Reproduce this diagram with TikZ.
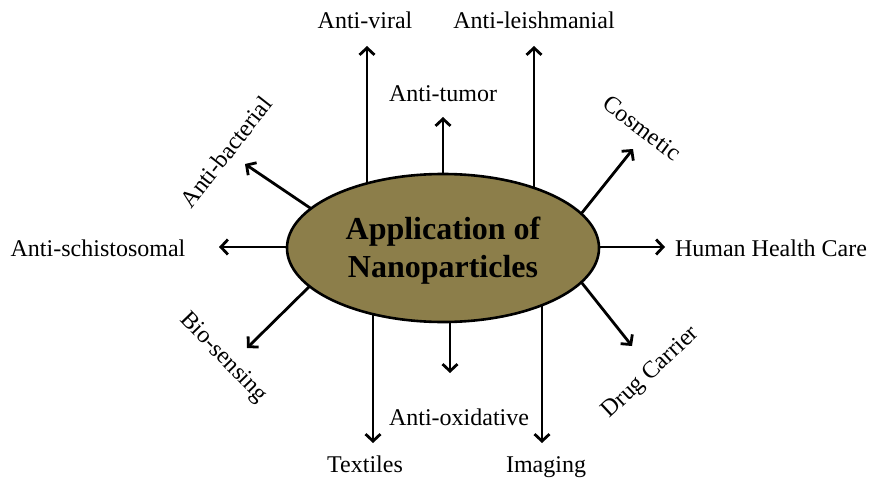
\documentclass[tikz,border=0pt]{standalone}
\usepackage{fontspec}
\setmainfont{Liberation Serif}
\usetikzlibrary{shapes.geometric,arrows.meta,backgrounds}
\definecolor{olive}{RGB}{140,126,74}
\tikzset{
  hub/.style={ellipse, draw=black, line width=2.6pt, fill=olive, minimum width=312pt, minimum height=148pt, inner sep=0pt},
  hubtext/.style={align=center, inner sep=0pt, font=\bfseries\fontsize{32}{38}\selectfont},
  lbl/.style={font=\fontsize{24}{28}\selectfont, inner sep=0pt},
  arr/.style={line width=2.8pt, -{Straight Barb[length=7pt,width=15pt,line width=2.8pt]}}
}
\begin{document}
\begin{tikzpicture}[x=1pt,y=-1pt]
\useasboundingbox (0,0) rectangle (877,484);
\node[hub] (c) at (443,248) {};
\node[hubtext] (ctext) at (443,251) {Application of\\Nanoparticles};
% labels
\node[lbl, anchor=base] (viral) at (365,29) {Anti-viral};
\node[lbl, anchor=base] (leish) at (534,29) {Anti-leishmanial};
\node[lbl, anchor=base] (tumor) at (443,102) {Anti-tumor};
\node[lbl, anchor=base] (hhc) at (771,256) {Human Health Care};
\node[lbl, anchor=base] (schis) at (98,256) {Anti-schistosomal};
\node[lbl, anchor=base] (oxi) at (459,425) {Anti-oxidative};
\node[lbl, anchor=base] (text) at (365,472) {Textiles};
\node[lbl, anchor=base] (imag) at (546,472) {Imaging};
\node[lbl, rotate=52] (bact) at (226,152) {Anti-bacterial};
\node[lbl, rotate=-37] (cosm) at (642,128) {Cosmetic};
\node[lbl, rotate=43] (drug) at (651,373) {Drug Carrier};
\node[lbl, rotate=-46] (bios) at (223,358) {Bio-sensing};
% arrow tips
\coordinate (tViral) at (367,46);
\coordinate (tLeish) at (534,46);
\coordinate (tTumor) at (443,117);
\coordinate (tHhc) at (665,247);
\coordinate (tSchis) at (219,247);
\coordinate (tOxi) at (450,373);
\coordinate (tText) at (373,443);
\coordinate (tImag) at (542,443);
\coordinate (tBact) at (245,164);
\coordinate (tCosm) at (633,149);
\coordinate (tDrug) at (632,346);
\coordinate (tBios) at (247,348);
% arrow starts inside the ellipse (hidden by its fill)
\coordinate (sBact) at (322,216);
\coordinate (sCosm) at (573,224);
\coordinate (sDrug) at (574,273);
\coordinate (sBios) at (318,278);
\begin{scope}[on background layer]
\draw[arr] (c.center -| tViral) -- (tViral);
\draw[arr] (c.center -| tLeish) -- (tLeish);
\draw[arr] (c.center -| tTumor) -- (tTumor);
\draw[arr] (c.center |- tHhc) -- (tHhc);
\draw[arr] (c.center |- tSchis) -- (tSchis);
\draw[arr] (c.center -| tOxi) -- (tOxi);
\draw[arr] (c.center -| tText) -- (tText);
\draw[arr] (c.center -| tImag) -- (tImag);
\draw[arr] (sBact) -- (tBact);
\draw[arr] (sCosm) -- (tCosm);
\draw[arr] (sDrug) -- (tDrug);
\draw[arr] (sBios) -- (tBios);
\end{scope}
\end{tikzpicture}
\end{document}
